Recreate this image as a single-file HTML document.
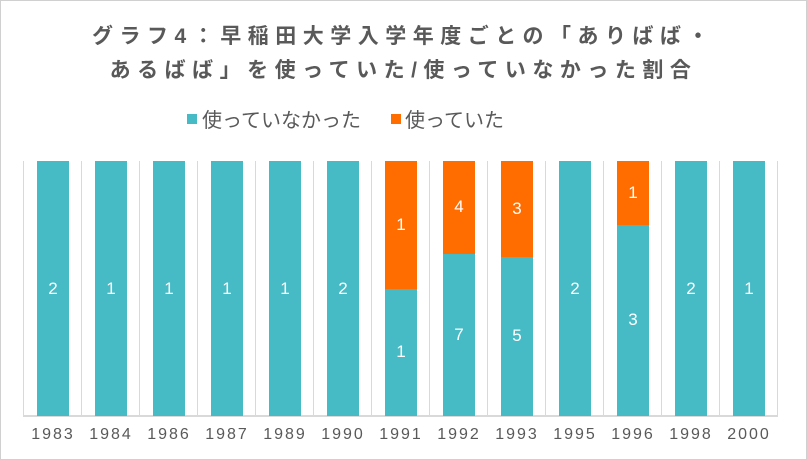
<!DOCTYPE html>
<html><head><meta charset="utf-8"><style>
body{margin:0;width:807px;height:460px;background:#fff;position:relative;overflow:hidden;font-family:"Liberation Sans","Noto Sans CJK JP",sans-serif;}
.frame{position:absolute;left:0;top:0;width:805px;height:458px;border:1px solid #d0d0d0;}
.t{position:absolute;left:0;width:807px;text-align:center;color:#595959;font-weight:bold;font-size:21px;letter-spacing:6.5px;white-space:nowrap;}
.leg{position:absolute;top:104px;font-size:20px;color:#595959;letter-spacing:0px;white-space:nowrap;}
.sq{position:absolute;width:10px;height:10px;}
.bar{position:absolute;width:32px;}
.v{position:absolute;width:32px;text-align:center;color:#fff;font-size:17px;}
.x{position:absolute;top:426px;width:58px;text-align:center;font-size:16px;color:#595959;letter-spacing:2px;}
.g{position:absolute;top:161px;height:255px;width:1px;background:#d9d9d9;}
</style></head><body>
<div class="frame"></div>
<div class="t" style="top:20px">グラフ4：早稲田大学入学年度ごとの「ありばば・</div>
<div class="t" style="top:54px">あるばば」を使っていた/使っていなかった割合</div>
<div class="sq" style="left:187px;top:114px;background:#46bbc6"></div>
<div class="leg" style="left:202px">使っていなかった</div>
<div class="sq" style="left:391px;top:114px;background:#ff6d00"></div>
<div class="leg" style="left:405px">使っていた</div>
<div id="c"></div>
<script>
var d=[["1983",2,0],["1984",1,0],["1986",1,0],["1987",1,0],["1989",1,0],["1990",2,0],["1991",1,1],["1992",7,4],["1993",5,3],["1995",2,0],["1996",3,1],["1998",2,0],["2000",1,0]];
var h='',T0=161,H=255;
for(var i=0;i<=13;i++)h+='<div class="g" style="left:'+(23+i*58)+'px"></div>';
h+='<div style="position:absolute;left:23px;top:415px;width:755px;height:2px;background:#d9d9d9"></div>';
d.forEach(function(r,i){var x=37+i*58,t=r[1]+r[2],oh=H*r[2]/t,th=H-oh;
if(r[2]){h+='<div class="bar" style="left:'+x+'px;top:'+T0+'px;height:'+oh+'px;background:#ff6d00"></div><div class="v" style="left:'+x+'px;top:'+(T0+oh/2-10)+'px">'+r[2]+'</div>';}
h+='<div class="bar" style="left:'+x+'px;top:'+(T0+oh)+'px;height:'+th+'px;background:#46bbc6"></div><div class="v" style="left:'+x+'px;top:'+(T0+oh+th/2-10)+'px">'+r[1]+'</div>';
h+='<div class="x" style="left:'+(24+i*58)+'px">'+r[0]+'</div>';});
document.getElementById('c').innerHTML=h;
</script>
</body></html>
